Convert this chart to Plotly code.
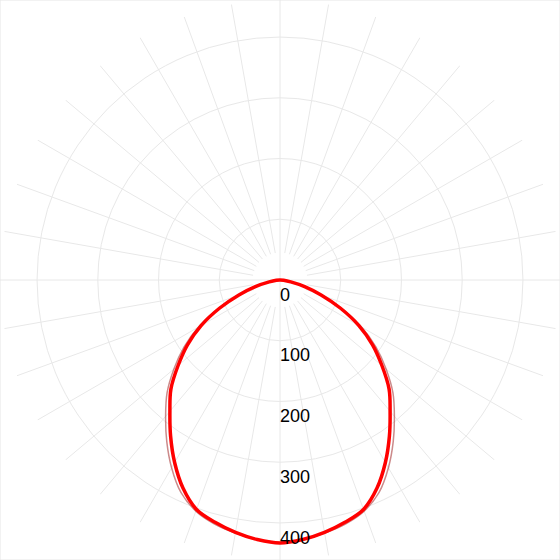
import plotly.graph_objects as go

# Angles from nadir (degrees), one half-plane; curves are mirrored
angles = [0, 5, 10, 15, 20, 25, 30, 35, 40, 45, 50, 55, 60, 65, 70, 75, 80, 85, 90]
# C0-C180 plane (bright red)
c0_values = [433, 429, 422, 413, 402, 378, 347, 314, 282, 254, 219, 186, 150, 110, 72, 42, 18, 6, 0]
# C90-C270 plane (faint)
c90_values = [432, 429, 423, 416, 405, 386, 357, 325, 293, 263, 228, 193, 155, 113, 73, 42, 18, 6, 0]

tick_values = [0, 100, 200, 300, 400]
tick_labels = ["0", "100", "200", "300", "400"]

r_max = 461
spoke_step = 10
spoke_inner = 45
grid_color = "#e8e8e8"


def mirror(a, v):
    th = [-x for x in reversed(a[1:])] + a
    rr = list(reversed(v[1:])) + v
    return th, rr


fig = go.Figure()

# spokes (angular grid) that stop short of the centre, except the main axes
sr, st = [], []
for ang in range(0, 360, spoke_step):
    inner = 0 if ang % 90 == 0 else spoke_inner
    sr += [inner, r_max, None]
    st += [ang, ang, None]
fig.add_trace(go.Scatterpolar(r=sr, theta=st, mode="lines",
                              line=dict(color=grid_color, width=1),
                              hoverinfo="skip", showlegend=False))

th90, r90 = mirror(angles, c90_values)
fig.add_trace(go.Scatterpolar(r=r90, theta=th90, mode="lines",
                              line=dict(color="rgba(170,60,60,0.6)", width=1.5, shape="spline"),
                              name="C90-C270", showlegend=False))

th0, r0 = mirror(angles, c0_values)
fig.add_trace(go.Scatterpolar(r=r0, theta=th0, mode="lines",
                              line=dict(color="#ff0000", width=3.5, shape="spline"),
                              name="C0-C180", showlegend=False))

# labels start at the axis: a transparent copy before each label centres the pair on the axis
label_text = ["<span style='color:rgba(0,0,0,0)'>%s</span>%s" % (t, t) for t in tick_labels]
fig.add_trace(go.Scatterpolar(r=tick_values, theta=[0] * len(tick_values), mode="markers+text",
                              text=label_text, textposition="bottom center",
                              marker=dict(size=10, color="rgba(0,0,0,0)"),
                              textfont=dict(size=18, color="#000000",
                                            family="Arial, Liberation Sans, sans-serif"),
                              hoverinfo="skip", showlegend=False))

fig.update_layout(
    width=560, height=560,
    margin=dict(l=0, r=0, t=0, b=0),
    paper_bgcolor="white",
    plot_bgcolor="white",
    showlegend=False,
    polar=dict(
        domain=dict(x=[0, 1], y=[0, 1]),
        bgcolor="white",
        angularaxis=dict(rotation=-90, direction="counterclockwise",
                         showgrid=False, showticklabels=False, ticks="",
                         showline=False),
        radialaxis=dict(range=[0, r_max], tickvals=tick_values[1:],
                        showticklabels=False, ticks="", showline=False,
                        gridcolor=grid_color, gridwidth=1),
    ),
    shapes=[dict(type="rect", xref="paper", yref="paper", x0=0, y0=0, x1=1, y1=1,
                 line=dict(color="#e6e6e6", width=1))],
)

fig.write_html("out.html", config={"displayModeBar": False},
               post_script="document.body.style.margin='0';document.body.style.padding='0';")
